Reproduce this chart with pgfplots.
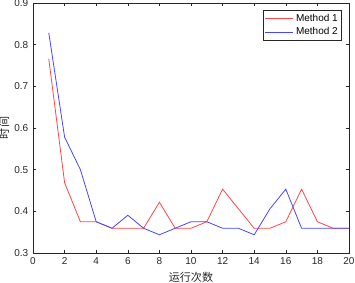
\documentclass[border=0pt]{standalone}
\usepackage{pgfplots}
\pgfplotsset{compat=1.18}
\usepackage{fontspec}
\setmainfont{Liberation Sans}
\newfontfamily\cjk{Noto Sans CJK SC}
\definecolor{mred}{RGB}{255,70,70}
\definecolor{mblue}{RGB}{70,70,255}
\definecolor{mgray}{RGB}{38,38,38}
\begin{document}
\begin{tikzpicture}
\useasboundingbox (0,0) rectangle (266.25pt,212.25pt);
\begin{axis}[
  at={(24.75pt,22.5pt)}, anchor=south west,
  scale only axis, width=237pt, height=187.5pt,
  xmin=0, xmax=20, ymin=0.3, ymax=0.9,
  xtick={0,2,...,20},
  ytick={0.3,0.4,...,0.9},
  yticklabel style={/pgf/number format/fixed,/pgf/number format/precision=1,/pgf/number format/fixed zerofill},
  /pgf/number format/assume math mode=true,
  tick align=inside,
  major tick length=2.5pt,
  axis line style={mgray, line width=0.4pt},
  tick style={mgray, line width=0.4pt},
  ticklabel style={font=\fontsize{7.5}{9}\selectfont, text=mgray},
  xlabel={\cjk 运行次数}, ylabel={\cjk 时间},
  label style={font=\fontsize{8.3}{10}\selectfont, text=mgray},
  xlabel style={yshift=1pt},
  ylabel style={yshift=-3pt},
  legend style={at={(1,1)}, xshift=-5.25pt, yshift=-5.25pt, anchor=north east,
    font=\fontsize{7.5}{9}\selectfont, draw=mgray, line width=0.4pt,
    inner sep=1pt, row sep=-1pt, cells={anchor=west}},
  legend image code/.code={\draw[#1] (0pt,0pt) -- (21pt,0pt);},
]
\addplot[mred, line width=0.6pt] coordinates {
(1,0.765625) (2,0.46875) (3,0.375) (4,0.375) (5,0.359375) (6,0.359375) (7,0.359375)
(8,0.421875) (9,0.359375) (10,0.359375) (11,0.375) (12,0.453125) (13,0.40625)
(14,0.359375) (15,0.359375) (16,0.375) (17,0.453125) (18,0.375) (19,0.359375) (20,0.359375)};
\addlegendentry{Method 1}
\addplot[mblue, line width=0.6pt] coordinates {
(1,0.828125) (2,0.578125) (3,0.5) (4,0.375) (5,0.359375) (6,0.390625) (7,0.359375)
(8,0.34375) (9,0.359375) (10,0.375) (11,0.375) (12,0.359375) (13,0.359375)
(14,0.34375) (15,0.40625) (16,0.453125) (17,0.359375) (18,0.359375) (19,0.359375) (20,0.359375)};
\addlegendentry{Method 2}
\end{axis}
\end{tikzpicture}
\end{document}
